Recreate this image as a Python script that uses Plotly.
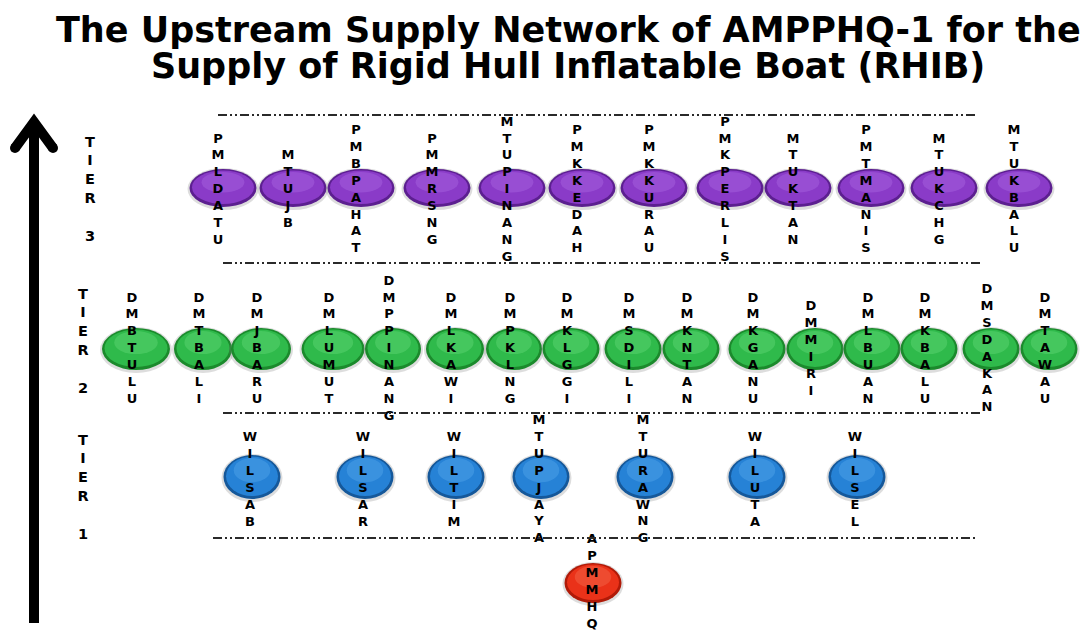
import plotly.graph_objects as go

# ---------------- data ----------------
title_lines = ["The Upstream Supply Network of AMPPHQ-1 for the",
               "Supply of Rigid Hull Inflatable Boat (RHIB)"]

tier3_names = ["PMLDATU", "MTUJB", "PMBPAHAT", "PMMRSNG", "MTUPINANG", "PMKKEDAH",
               "PMKKURAU", "PMKPERLIS", "MTUKTAN", "PMTMANIS", "MTUKCHG", "MTUKBALU"]
tier2_names = ["DMBTULU", "DMTBALI", "DMJBARU", "DMLUMUT", "DMPPINANG", "DMLKAWI",
               "DMPKLNG", "DMKLGGI", "DMSDILI", "DMKNTAN", "DMKGANU", "DMMIRI",
               "DMLBUAN", "DMKBALU", "DMSDAKAN", "DMTAWAU"]
tier1_names = ["WILSAB", "WILSAR", "WILTIM", "MTUPJAYA", "MTURAWNG", "WILUTA", "WILSEL"]
focal_names = ["APMMHQ"]
tier_labels = ["TIER 3", "TIER 2", "TIER 1"]

# ---------------- layout positions (pixel-like axis units) ----------------
tier3_x = [223, 293, 361, 437, 512, 582, 654, 730, 798, 871, 944, 1019]
tier2_x = [136, 203, 261, 333, 393, 455, 514, 571, 633, 691, 757, 815, 872, 929, 991, 1049]
tier1_x = [252, 365, 456, 541, 645, 757, 857]
focal_x = [593]

tier2_w = [68, 58, 60, 63, 56, 58, 56, 57, 57, 57, 57, 57, 57, 57, 57, 57]

sep_y = [115, 263, 413, 538]
sep_x0 = [218, 223, 223, 213]
sep_x1 = [978, 980, 980, 976]

label_x = [90, 83, 83]
label_y = [190, 342, 488]

rows = [
    # names, xs, widths, yc, h, text dx, text y, palette(dark, main, light)
    (tier3_names, tier3_x, [67] * len(tier3_x), 188, 38, -5, 190, ("#5c1f90", "#8a3bc8", "#a965e0")),
    (tier2_names, tier2_x, tier2_w, 349, 42, -4, 349, ("#1b8a2c", "#2fba4b", "#62d676")),
    (tier1_names, tier1_x, [57] * len(tier1_x), 477, 44, -2, 480, ("#15589a", "#2682d6", "#55a6ea")),
    (focal_names, focal_x, [57], 583, 40, -1, 582, ("#b01a08", "#ea3219", "#f56a4e")),
]

# page offset of the plot div (default body margin)
OFF = 8
W, H = 1089, 630

fig = go.Figure()

# title
title_y = [30, 66]
for t, ty in zip(title_lines, title_y):
    fig.add_annotation(x=568, y=ty, xref="x", yref="y", text=t, showarrow=False,
                       xanchor="center", yanchor="middle",
                       font=dict(family="DejaVu Sans", size=35, color="black", weight="bold"))

# arrow
fig.add_shape(type="line", xref="x", yref="y", x0=34, x1=34, y0=623, y1=124,
              line=dict(color="black", width=10))
fig.add_shape(type="path", xref="x", yref="y", path="M 15,148 L 34,122 L 53,148",
              line=dict(color="black", width=10))
for cx in [15, 53]:
    fig.add_shape(type="circle", xref="x", yref="y", x0=cx - 5, x1=cx + 5, y0=143, y1=153,
                  fillcolor="black", line=dict(width=0))

# separators
for y, a, b in zip(sep_y, sep_x0, sep_x1):
    fig.add_shape(type="line", xref="x", yref="y", x0=a, x1=b, y0=y, y1=y,
                  line=dict(color="#2a2a2a", width=2, dash="9px,3px,2px,3px,2px,3px"))

# nodes
for names, xs, ws, yc, h, dx, ty, (dark, main, light) in rows:
    for x, w in zip(xs, ws):
        fig.add_shape(type="circle", xref="x", yref="y", layer="below",
                      x0=x - w / 2 - 2, x1=x + w / 2 + 2, y0=yc - h / 2 - 1, y1=yc + h / 2 + 3,
                      fillcolor="rgba(120,120,120,0.25)", line=dict(width=0))
        fig.add_shape(type="circle", xref="x", yref="y", layer="below",
                      x0=x - w / 2, x1=x + w / 2, y0=yc - h / 2, y1=yc + h / 2,
                      fillcolor=dark, line=dict(width=0))
        fig.add_shape(type="circle", xref="x", yref="y", layer="below",
                      x0=x - w / 2 + 2.5, x1=x + w / 2 - 2.5, y0=yc - h / 2 + 1.5, y1=yc + h / 2 - 3,
                      fillcolor=main, line=dict(width=0))
        fig.add_shape(type="circle", xref="x", yref="y", layer="below",
                      x0=x - w * 0.32, x1=x + w * 0.32, y0=yc - h / 2 + 3, y1=yc + h * 0.12,
                      fillcolor=light, opacity=0.45, line=dict(width=0))
    fig.add_trace(go.Scatter(
        x=[x + dx for x in xs], y=[ty] * len(xs), mode="text",
        text=["<br>".join(list(n)) for n in names],
        textposition="middle center",
        textfont=dict(family="DejaVu Sans", size=13, color="black", weight="bold"),
        hovertext=names, hoverinfo="text", showlegend=False))

# tier labels
fig.add_trace(go.Scatter(
    x=label_x, y=label_y, mode="text",
    text=["<br>".join(list(t.split()[0])) + "<br><br>" + t.split()[1] for t in tier_labels],
    textposition="middle center",
    textfont=dict(family="DejaVu Sans", size=14.5, color="black", weight="bold"),
    hoverinfo="skip", showlegend=False))

fig.update_layout(
    width=W - OFF, height=H - OFF,
    margin=dict(l=0, r=0, t=0, b=0),
    paper_bgcolor="white", plot_bgcolor="white",
    xaxis=dict(range=[OFF, W], visible=False, fixedrange=True),
    yaxis=dict(range=[H, OFF], visible=False, fixedrange=True),
    showlegend=False,
)

fig.write_html("out.html")
